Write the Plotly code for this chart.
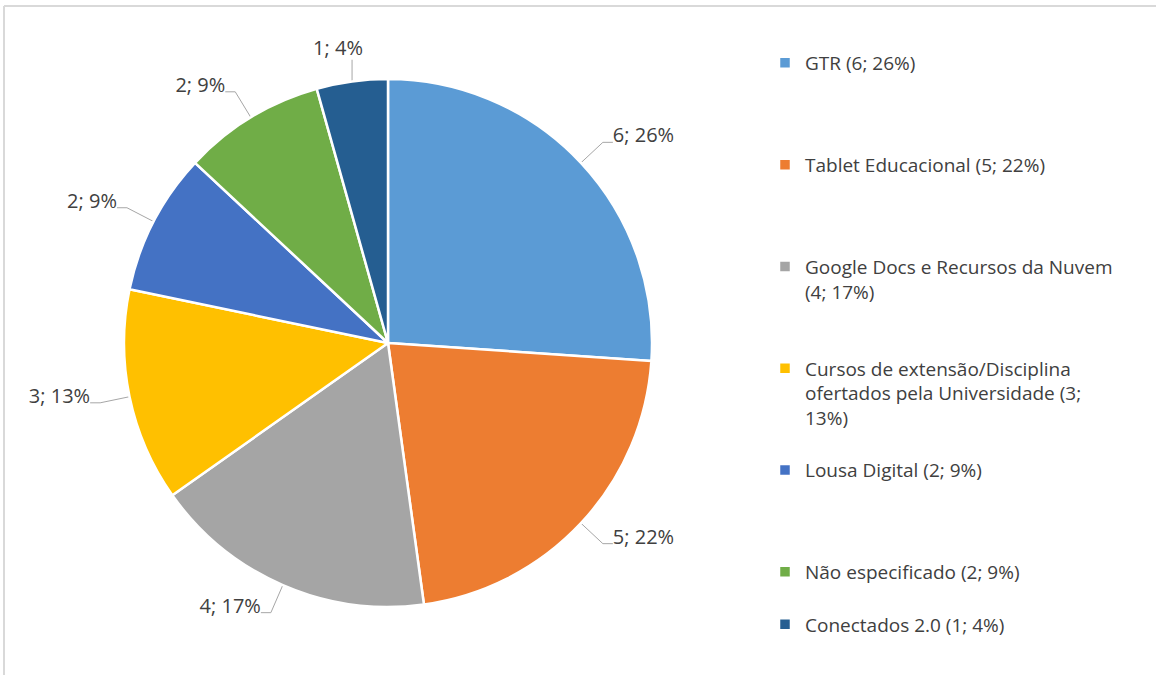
import math
import plotly.graph_objects as go

# dados do gráfico
categorias = ["GTR", "Tablet Educacional", "Google Docs e Recursos da Nuvem",
              "Cursos de extensão/Disciplina ofertados pela Universidade",
              "Lousa Digital", "Não especificado", "Conectados 2.0"]
valores = [6, 5, 4, 3, 2, 2, 1]
cores = ["#5B9BD5", "#ED7D31", "#A5A5A5", "#FFC000", "#4472C4", "#70AD47", "#255E91"]

# textos da legenda (quebras de linha como no original)
quebras = {
    "Google Docs e Recursos da Nuvem": "Google Docs e Recursos da Nuvem<br>({v}; {p}%)",
    "Cursos de extensão/Disciplina ofertados pela Universidade":
        "Cursos de extensão/Disciplina<br>ofertados pela Universidade ({v};<br>{p}%)",
}
# linhas vazias após cada item, para espaçar a legenda
espacos = [3, 3, 2, 1, 3, 1, 0]

W, H = 1156, 675
cx, cy, r = 388, 343, 264   # centro e raio da pizza (px)
L = 30                       # comprimento radial da linha de chamada
HZ = 10                      # trecho horizontal da linha de chamada

total = sum(valores)
legenda = []
for nome, v, n in zip(categorias, valores, espacos):
    p = round(100 * v / total)
    txt = quebras.get(nome, nome + " ({v}; {p}%)").format(v=v, p=p)
    legenda.append(txt + "<br>\u00a0" * n)

# rótulos externos com linhas de chamada, calculados a partir dos valores
lx, ly = [], []
tx, ty, tt, tp = [], [], [], []
acum = 0
for v in valores:
    meio = (acum + v / 2) / total * 2 * math.pi
    acum += v
    s, c = math.sin(meio), math.cos(meio)
    ex, ey = cx + r * s, cy - r * c
    px, py = cx + (r + L) * s, cy - (r + L) * c
    rotulo = f"{v}; {round(100 * v / total)}%"
    if abs(s) < 0.2:
        lx += [ex, ex, None]
        ly += [ey, py + 8, None]
        tx.append(ex - 14)
        ty.append(py + 8)
        tp.append("top center")
    else:
        lado = 1 if s > 0 else -1
        hx = px + lado * HZ
        lx += [ex, px, hx, None]
        ly += [ey, py, py, None]
        tx.append(hx)
        ty.append(py - 5)
        tp.append("middle right" if lado > 0 else "middle left")
    tt.append(rotulo)

fig = go.Figure()
fig.add_trace(go.Pie(
    labels=legenda,
    values=valores,
    sort=False,
    direction="clockwise",
    rotation=0,
    marker=dict(colors=cores, line=dict(color="white", width=2.5)),
    textinfo="none",
    hoverinfo="label+value+percent",
    domain=dict(x=[(cx - r) / W, (cx + r) / W], y=[(H - cy - r) / H, (H - cy + r) / H]),
))
fig.add_trace(go.Scatter(
    x=lx, y=ly, mode="lines", line=dict(color="#A6A6A6", width=1),
    hoverinfo="skip", showlegend=False,
))
fig.add_trace(go.Scatter(
    x=tx, y=ty, mode="text", text=tt, textposition=tp,
    textfont=dict(size=20, color="#404040"),
    hoverinfo="skip", showlegend=False,
))

fig.update_layout(
    width=W, height=H,
    margin=dict(l=0, r=0, t=0, b=0),
    paper_bgcolor="white",
    plot_bgcolor="rgba(0,0,0,0)",
    font=dict(family="Open Sans, Noto Sans, sans-serif", color="#404040"),
    showlegend=True,
    xaxis=dict(visible=False, range=[0, W], fixedrange=True),
    yaxis=dict(visible=False, range=[H, 0], fixedrange=True),
    legend=dict(
        x=765 / W, y=1 - 44 / H, xanchor="left", yanchor="top",
        font=dict(size=19, color="#404040"),
        valign="top", traceorder="normal",
    ),
    shapes=[
        dict(type="line", xref="paper", yref="paper", x0=4 / W, x1=1, y0=1 - 6 / H, y1=1 - 6 / H,
             line=dict(color="#D9D9D9", width=2)),
        dict(type="line", xref="paper", yref="paper", x0=4 / W, x1=4 / W, y0=0, y1=1 - 6 / H,
             line=dict(color="#D9D9D9", width=2)),
    ],
)

fig.write_html("out.html", config={"displayModeBar": False},
               post_script="document.body.style.margin='0px';")
